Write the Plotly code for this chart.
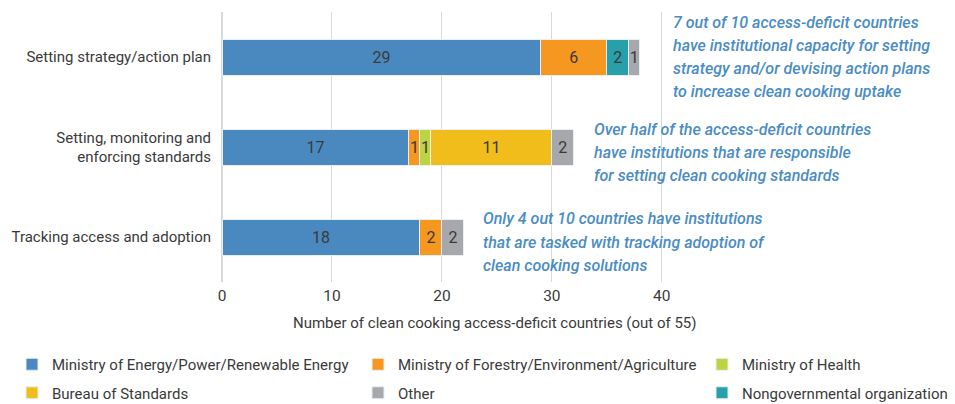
import plotly.graph_objects as go

# categories, top to bottom
tasks = [
    "Setting strategy/action plan",
    "Setting, monitoring and<br>enforcing standards",
    "Tracking access and adoption",
]

# countries per institution type (same order as tasks)
energy = [29, 17, 18]
forestry = [6, 1, 2]
health = [0, 1, 0]
bureau = [0, 11, 0]
ngo = [2, 0, 0]
other = [1, 2, 2]

x_ticks = [0, 10, 20, 30, 40]
x_title = "Number of clean cooking access-deficit countries (out of 55)"

notes = [
    ["7 out of 10 access-deficit countries", "have institutional capacity for setting",
     "strategy and/or devising action plans", "to increase clean cooking uptake"],
    ["Over half of the access-deficit countries", "have institutions that are responsible",
     "for setting clean cooking standards"],
    ["Only 4 out 10 countries have institutions", "that are tasked with tracking adoption of",
     "clean cooking solutions"],
]

FONT = "Roboto, Arial, sans-serif"
TEXT = "#3a3a3a"
NOTE = "#4a8cc4"

# (name, values, colour, legend)
series = [
    ("Ministry of Energy/Power/Renewable Energy", energy, "#4a89bf", "legend"),
    ("Ministry of Forestry/Environment/Agriculture", forestry, "#f6971f", "legend2"),
    ("Ministry of Health", health, "#bcd444", "legend3"),
    ("Bureau of Standards", bureau, "#f0bd1b", "legend"),
    ("Nongovernmental organization", ngo, "#27a0a9", "legend3"),
    ("Other", other, "#a7a8ab", "legend2"),
]

fig = go.Figure()
for name, vals, color, leg in series:
    fig.add_trace(go.Bar(
        y=tasks, x=vals, orientation="h", name=name,
        marker=dict(color=color, line=dict(color="#e8eef4", width=1)),
        text=[str(v) if v else "" for v in vals],
        textposition="inside", insidetextanchor="middle",
        textfont=dict(color=TEXT, size=16, family=FONT),
        width=0.4, legend=leg, legendgroup=name,
    ))

# plot area in pixels
L, R, T, B = 222, 291, 12, 122
W, H = 955 - L - R, 404 - T - B

# callout notes, one annotation per line: (lines, left px, first-line centre px)
for lines, px, py in zip(notes, [671, 592, 481], [22, 129, 219]):
    for i, line in enumerate(lines):
        fig.add_annotation(
            text=line, xref="paper", yref="paper",
            x=(px - L) / W, y=(H + T - (py + i * 23.3)) / H,
            xanchor="left", yanchor="middle", align="left", showarrow=False,
            font=dict(family=FONT, size=16, color=NOTE, style="italic", weight=500),
        )

# axis title sits right of the plot centre in the original
fig.add_annotation(
    text=x_title, xref="paper", yref="paper", x=(495 - L) / W, y=-(323 - T - H) / H,
    xanchor="center", yanchor="middle", showarrow=False,
    font=dict(family=FONT, size=15, color=TEXT),
)

leg_common = dict(
    orientation="v", xanchor="left", yanchor="top", yref="container", xref="container",
    font=dict(family=FONT, size=15, color=TEXT), tracegroupgap=6,
    bgcolor="rgba(0,0,0,0)", itemclick=False,
)

fig.update_layout(
    width=955, height=404,
    barmode="stack",
    paper_bgcolor="white", plot_bgcolor="white",
    margin=dict(l=L, r=R, t=T, b=B, autoexpand=False),
    font=dict(family=FONT, size=15, color=TEXT),
    showlegend=True,
    legend=dict(x=12 / 955, y=1 - 348 / 404, **leg_common),
    legend2=dict(x=358 / 955, y=1 - 348 / 404, **leg_common),
    legend3=dict(x=702 / 955, y=1 - 348 / 404, **leg_common),
    uniformtext=dict(minsize=10, mode="show"),
)
fig.update_xaxes(
    range=[0, 40.2], tickvals=x_ticks, showgrid=True, gridcolor="#d9d9d9", gridwidth=1,
    zeroline=True, zerolinecolor="#d9d9d9", showline=False, ticks="",
    tickfont=dict(size=15.5, color=TEXT), ticklabelstandoff=2,
)
fig.update_yaxes(
    categoryorder="array", categoryarray=tasks[::-1], showgrid=False,
    ticks="", tickfont=dict(size=15, color=TEXT), ticklabelstandoff=10,
)

fig.write_html("out.html", config={"displayModeBar": False},
               post_script="document.body.style.margin='0';")
